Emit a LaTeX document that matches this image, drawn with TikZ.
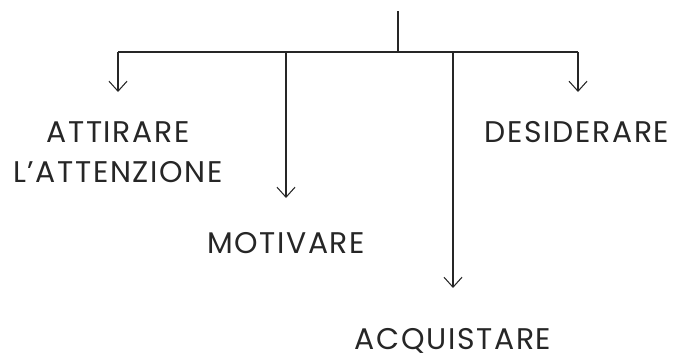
\documentclass[tikz,border=0pt]{standalone}
\usepackage{fontspec}
\setmainfont{Poppins}[LetterSpace=5.5]
\usetikzlibrary{arrows.meta}
\tikzset{
  branch/.style={line width=0.6pt,black!85},
  arr/.style={branch,-{Straight Barb[length=2mm,width=3.6mm,line width=0.6pt]}},
  word/.style={font=\fontsize{17}{23}\selectfont,text=black!85,align=center,inner sep=0pt}
}
\begin{document}
\begin{tikzpicture}[x=0.02cm,y=-0.02cm]
\useasboundingbox (0,0) rectangle (695,358);
% tree lines
\coordinate (top) at (398,11);
\coordinate (hub) at (398,52);
\coordinate (l) at (118,52);
\coordinate (ml) at (286,52);
\coordinate (mr) at (453,52);
\coordinate (r) at (578,52);
\coordinate (lend) at (118,92);
\coordinate (mlend) at (286,198);
\coordinate (mrend) at (453,288);
\coordinate (rend) at (578,92);
\draw[branch] (top)--(hub);
\draw[branch] (l)--(r);
\foreach \a/\b in {l/lend,ml/mlend,mr/mrend,r/rend} {\draw[arr] (\a)--(\b);}
% labels
\node[word] (attirare) at (118,152) {ATTIRARE\\L’ATTENZIONE};
\node[word] (desiderare) at (577,132) {DESIDERARE};
\node[word] (motivare) at (286,243) {MOTIVARE};
\node[word] (acquistare) at (453,341) {ACQUISTARE};
\end{tikzpicture}
\end{document}
